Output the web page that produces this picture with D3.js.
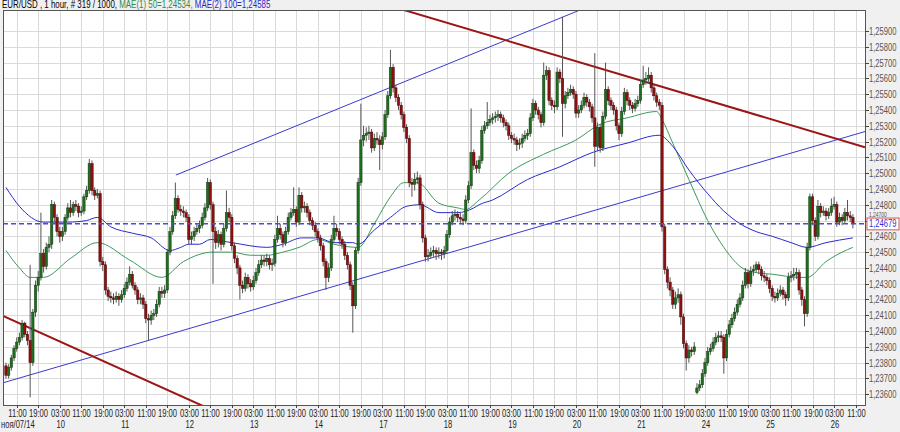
<!DOCTYPE html>
<html><head><meta charset="utf-8">
<script src="https://cdn.jsdelivr.net/npm/d3@7"></script>
<style>body{margin:0;background:#f0f0f0}svg{display:block}text{font-family:"Liberation Sans",Arial,sans-serif}</style>
</head><body>
<svg id="c" width="900" height="432"></svg>
<script>
// ---- DATA (EUR/USD, 1 hour bars) ----
const opens=[
1.2378,1.2372,1.2377,1.2383,1.2389,1.2393,1.2396,1.2405,1.2398,1.2394,
1.2380,1.2412,1.2429,1.2434,1.2449,1.2441,1.2453,1.2455,1.2480,1.2472,
1.2463,1.2460,1.2463,1.2472,1.2478,1.2475,1.2480,1.2479,1.2475,1.2476,
1.2485,1.2489,1.2506,1.2489,1.2486,1.2487,1.2444,1.2442,1.2426,1.2422,
1.2421,1.2420,1.2422,1.2420,1.2423,1.2427,1.2431,1.2436,1.2429,1.2426,
1.2420,1.2421,1.2417,1.2408,1.2407,1.2410,1.2411,1.2417,1.2425,1.2424,
1.2426,1.2450,1.2463,1.2473,1.2484,1.2477,1.2476,1.2475,1.2472,1.2458,
1.2460,1.2463,1.2465,1.2467,1.2472,1.2478,1.2494,1.2480,1.2463,1.2456,
1.2461,1.2455,1.2465,1.2475,1.2472,1.2454,1.2446,1.2440,1.2429,1.2427,
1.2434,1.2430,1.2428,1.2432,1.2437,1.2442,1.2445,1.2444,1.2446,1.2442,
1.2443,1.2458,1.2465,1.2461,1.2456,1.2463,1.2472,1.2475,1.2477,1.2469,
1.2486,1.2478,1.2479,1.2475,1.2470,1.2467,1.2463,1.2459,1.2454,1.2444,
1.2434,1.2440,1.2458,1.2465,1.2463,1.2458,1.2455,1.2448,1.2442,1.2429,
1.2416,1.2451,1.2494,1.2521,1.2524,1.2525,1.2526,1.2516,1.2522,1.2521,
1.2518,1.2523,1.2537,1.2549,1.2567,1.2554,1.2548,1.2543,1.2537,1.2529,
1.2522,1.2494,1.2493,1.2496,1.2497,1.2480,1.2459,1.2447,1.2448,1.2450,
1.2451,1.2449,1.2450,1.2449,1.2451,1.2461,1.2469,1.2473,1.2474,1.2472,
1.2471,1.2470,1.2483,1.2492,1.2513,1.2505,1.2503,1.2508,1.2527,1.2530,
1.2532,1.2534,1.2535,1.2536,1.2537,1.2535,1.2532,1.2530,1.2524,1.2522,
1.2521,1.2518,1.2519,1.2522,1.2524,1.2525,1.2535,1.2544,1.2540,1.2537,
1.2532,1.2562,1.2565,1.2546,1.2543,1.2542,1.2564,1.2560,1.2544,1.2549,
1.2551,1.2553,1.2550,1.2538,1.2540,1.2543,1.2548,1.2545,1.2542,1.2535,
1.2517,1.2529,1.2516,1.2536,1.2553,1.2546,1.2543,1.2540,1.2530,1.2525,
1.2539,1.2551,1.2546,1.2543,1.2541,1.2544,1.2546,1.2556,1.2559,1.2560,
1.2562,1.2554,1.2549,1.2545,1.2543,1.2466,1.2439,1.2431,1.2426,1.2417,
1.2421,1.2423,1.2409,1.2392,1.2383,1.2388,1.2387,1.2361,1.2364,1.2366,
1.2373,1.2380,1.2387,1.2389,1.2393,1.2396,1.2397,1.2396,1.2383,1.2398,
1.2404,1.2408,1.2412,1.2417,1.2421,1.2429,1.2437,1.2430,1.2438,1.2439,
1.2442,1.2439,1.2435,1.2434,1.2432,1.2427,1.2422,1.2421,1.2424,1.2426,
1.2423,1.2421,1.2434,1.2435,1.2436,1.2437,1.2426,1.2420,1.2411,1.2453,
1.2485,1.2470,1.2460,1.2479,1.2475,1.2476,1.2473,1.2475,1.2479,1.2480,
1.2469,1.2472,1.2470,1.2475,1.2473,1.2472];
const highs=[
1.2380,1.2379,1.2385,1.2391,1.2396,1.2399,1.2407,1.2406,1.2400,1.2442,
1.2414,1.2432,1.2438,1.2475,1.2452,1.2456,1.2460,1.2483,1.2482,1.2474,
1.2466,1.2466,1.2474,1.2481,1.2483,1.2482,1.2483,1.2481,1.2479,1.2487,
1.2492,1.2509,1.2508,1.2491,1.2490,1.2489,1.2447,1.2444,1.2428,1.2425,
1.2424,1.2425,1.2424,1.2426,1.2430,1.2434,1.2441,1.2438,1.2431,1.2428,
1.2424,1.2423,1.2419,1.2411,1.2413,1.2414,1.2420,1.2428,1.2428,1.2429,
1.2452,1.2466,1.2476,1.2494,1.2486,1.2480,1.2479,1.2477,1.2474,1.2463,
1.2466,1.2468,1.2470,1.2475,1.2481,1.2497,1.2496,1.2482,1.2466,1.2464,
1.2463,1.2468,1.2489,1.2478,1.2474,1.2456,1.2448,1.2442,1.2432,1.2437,
1.2436,1.2433,1.2435,1.2440,1.2445,1.2448,1.2448,1.2449,1.2448,1.2446,
1.2461,1.2473,1.2468,1.2463,1.2466,1.2475,1.2478,1.2491,1.2479,1.2491,
1.2488,1.2482,1.2481,1.2477,1.2472,1.2469,1.2465,1.2461,1.2456,1.2446,
1.2443,1.2461,1.2473,1.2468,1.2465,1.2460,1.2457,1.2450,1.2444,1.2431,
1.2453,1.2497,1.2544,1.2530,1.2529,1.2530,1.2528,1.2525,1.2526,1.2524,
1.2526,1.2540,1.2552,1.2578,1.2569,1.2556,1.2550,1.2545,1.2539,1.2531,
1.2524,1.2497,1.2500,1.2501,1.2499,1.2482,1.2461,1.2452,1.2453,1.2454,
1.2453,1.2453,1.2452,1.2454,1.2464,1.2472,1.2476,1.2477,1.2476,1.2475,
1.2474,1.2486,1.2495,1.2541,1.2515,1.2508,1.2511,1.2530,1.2533,1.2545,
1.2537,1.2538,1.2539,1.2540,1.2539,1.2537,1.2534,1.2532,1.2526,1.2525,
1.2523,1.2522,1.2525,1.2527,1.2528,1.2538,1.2547,1.2546,1.2542,1.2539,
1.2570,1.2568,1.2567,1.2548,1.2546,1.2567,1.2566,1.2599,1.2552,1.2554,
1.2556,1.2555,1.2552,1.2543,1.2546,1.2551,1.2550,1.2547,1.2544,1.2576,
1.2532,1.2531,1.2539,1.2570,1.2555,1.2548,1.2545,1.2542,1.2532,1.2542,
1.2554,1.2553,1.2548,1.2545,1.2547,1.2549,1.2559,1.2568,1.2564,1.2567,
1.2564,1.2556,1.2551,1.2547,1.2545,1.2468,1.2441,1.2434,1.2428,1.2425,
1.2427,1.2425,1.2411,1.2394,1.2391,1.2390,1.2393,1.2367,1.2369,1.2376,
1.2383,1.2390,1.2392,1.2396,1.2399,1.2400,1.2400,1.2398,1.2401,1.2407,
1.2411,1.2415,1.2420,1.2424,1.2432,1.2440,1.2439,1.2441,1.2442,1.2444,
1.2444,1.2441,1.2438,1.2436,1.2434,1.2429,1.2425,1.2427,1.2429,1.2428,
1.2425,1.2437,1.2438,1.2440,1.2440,1.2439,1.2428,1.2422,1.2456,1.2487,
1.2487,1.2472,1.2483,1.2481,1.2479,1.2478,1.2478,1.2484,1.2485,1.2482,
1.2475,1.2474,1.2478,1.2483,1.2476,1.2474];
const lows=[
1.2370,1.2370,1.2375,1.2381,1.2387,1.2391,1.2394,1.2396,1.2391,1.2358,
1.2378,1.2409,1.2425,1.2432,1.2437,1.2439,1.2450,1.2452,1.2469,1.2460,
1.2456,1.2457,1.2461,1.2470,1.2472,1.2473,1.2476,1.2472,1.2473,1.2474,
1.2483,1.2487,1.2486,1.2483,1.2484,1.2441,1.2438,1.2423,1.2419,1.2418,
1.2417,1.2418,1.2416,1.2418,1.2421,1.2425,1.2429,1.2427,1.2423,1.2417,
1.2417,1.2414,1.2405,1.2394,1.2404,1.2407,1.2409,1.2415,1.2421,1.2421,
1.2424,1.2448,1.2461,1.2471,1.2475,1.2473,1.2472,1.2469,1.2455,1.2455,
1.2457,1.2461,1.2462,1.2465,1.2470,1.2476,1.2477,1.2430,1.2452,1.2453,
1.2451,1.2453,1.2463,1.2469,1.2451,1.2443,1.2436,1.2420,1.2424,1.2425,
1.2427,1.2425,1.2426,1.2430,1.2435,1.2440,1.2441,1.2441,1.2439,1.2438,
1.2441,1.2456,1.2458,1.2453,1.2454,1.2461,1.2470,1.2473,1.2466,1.2467,
1.2475,1.2475,1.2472,1.2467,1.2464,1.2460,1.2456,1.2451,1.2441,1.2426,
1.2431,1.2438,1.2456,1.2460,1.2455,1.2452,1.2445,1.2439,1.2426,1.2399,
1.2414,1.2449,1.2492,1.2517,1.2520,1.2521,1.2513,1.2514,1.2518,1.2502,
1.2515,1.2521,1.2535,1.2547,1.2551,1.2545,1.2540,1.2534,1.2526,1.2519,
1.2491,1.2485,1.2489,1.2493,1.2477,1.2456,1.2444,1.2444,1.2446,1.2447,
1.2445,1.2446,1.2445,1.2446,1.2449,1.2459,1.2467,1.2470,1.2469,1.2468,
1.2467,1.2468,1.2481,1.2490,1.2502,1.2500,1.2500,1.2506,1.2525,1.2528,
1.2530,1.2531,1.2532,1.2533,1.2532,1.2529,1.2527,1.2521,1.2519,1.2518,
1.2514,1.2515,1.2516,1.2520,1.2521,1.2523,1.2533,1.2537,1.2534,1.2529,
1.2530,1.2559,1.2543,1.2540,1.2538,1.2540,1.2557,1.2523,1.2541,1.2547,
1.2549,1.2547,1.2535,1.2535,1.2538,1.2541,1.2542,1.2539,1.2532,1.2504,
1.2514,1.2513,1.2514,1.2534,1.2543,1.2540,1.2537,1.2527,1.2521,1.2523,
1.2537,1.2543,1.2540,1.2538,1.2539,1.2542,1.2544,1.2554,1.2556,1.2557,
1.2551,1.2546,1.2542,1.2540,1.2463,1.2436,1.2427,1.2422,1.2414,1.2414,
1.2418,1.2404,1.2389,1.2375,1.2380,1.2384,1.2385,1.2360,1.2362,1.2364,
1.2371,1.2378,1.2385,1.2387,1.2391,1.2393,1.2393,1.2373,1.2381,1.2396,
1.2402,1.2406,1.2410,1.2415,1.2419,1.2427,1.2427,1.2428,1.2435,1.2437,
1.2436,1.2432,1.2431,1.2429,1.2424,1.2419,1.2418,1.2419,1.2422,1.2420,
1.2416,1.2419,1.2431,1.2432,1.2433,1.2423,1.2416,1.2403,1.2409,1.2451,
1.2467,1.2457,1.2458,1.2472,1.2473,1.2470,1.2471,1.2473,1.2477,1.2466,
1.2467,1.2467,1.2468,1.2470,1.2469,1.2465];
const closes=[
1.2372,1.2377,1.2383,1.2389,1.2393,1.2396,1.2405,1.2398,1.2394,1.2380,
1.2412,1.2429,1.2434,1.2449,1.2441,1.2453,1.2455,1.2480,1.2472,1.2463,
1.2460,1.2463,1.2472,1.2478,1.2475,1.2480,1.2479,1.2475,1.2476,1.2485,
1.2489,1.2506,1.2489,1.2486,1.2487,1.2444,1.2442,1.2426,1.2422,1.2421,
1.2420,1.2422,1.2420,1.2423,1.2427,1.2431,1.2436,1.2429,1.2426,1.2420,
1.2421,1.2417,1.2408,1.2407,1.2410,1.2411,1.2417,1.2425,1.2424,1.2426,
1.2450,1.2463,1.2473,1.2484,1.2477,1.2476,1.2475,1.2472,1.2458,1.2460,
1.2463,1.2465,1.2467,1.2472,1.2478,1.2494,1.2480,1.2463,1.2456,1.2461,
1.2455,1.2465,1.2475,1.2472,1.2454,1.2446,1.2440,1.2429,1.2427,1.2434,
1.2430,1.2428,1.2432,1.2437,1.2442,1.2445,1.2444,1.2446,1.2442,1.2443,
1.2458,1.2465,1.2461,1.2456,1.2463,1.2472,1.2475,1.2477,1.2469,1.2486,
1.2478,1.2479,1.2475,1.2470,1.2467,1.2463,1.2459,1.2454,1.2444,1.2434,
1.2440,1.2458,1.2465,1.2463,1.2458,1.2455,1.2448,1.2442,1.2429,1.2416,
1.2451,1.2494,1.2521,1.2524,1.2525,1.2526,1.2516,1.2522,1.2521,1.2518,
1.2523,1.2537,1.2549,1.2567,1.2554,1.2548,1.2543,1.2537,1.2529,1.2522,
1.2494,1.2493,1.2496,1.2497,1.2480,1.2459,1.2447,1.2448,1.2450,1.2451,
1.2449,1.2450,1.2449,1.2451,1.2461,1.2469,1.2473,1.2474,1.2472,1.2471,
1.2470,1.2483,1.2492,1.2513,1.2505,1.2503,1.2508,1.2527,1.2530,1.2532,
1.2534,1.2535,1.2536,1.2537,1.2535,1.2532,1.2530,1.2524,1.2522,1.2521,
1.2518,1.2519,1.2522,1.2524,1.2525,1.2535,1.2544,1.2540,1.2537,1.2532,
1.2562,1.2565,1.2546,1.2543,1.2542,1.2564,1.2560,1.2544,1.2549,1.2551,
1.2553,1.2550,1.2538,1.2540,1.2543,1.2548,1.2545,1.2542,1.2535,1.2517,
1.2529,1.2516,1.2536,1.2553,1.2546,1.2543,1.2540,1.2530,1.2525,1.2539,
1.2551,1.2546,1.2543,1.2541,1.2544,1.2546,1.2556,1.2559,1.2560,1.2562,
1.2554,1.2549,1.2545,1.2543,1.2466,1.2439,1.2431,1.2426,1.2417,1.2421,
1.2423,1.2409,1.2392,1.2383,1.2388,1.2387,1.2390,1.2364,1.2366,1.2373,
1.2380,1.2387,1.2389,1.2393,1.2396,1.2397,1.2396,1.2383,1.2398,1.2404,
1.2408,1.2412,1.2417,1.2421,1.2429,1.2437,1.2430,1.2438,1.2439,1.2442,
1.2439,1.2435,1.2434,1.2432,1.2427,1.2422,1.2421,1.2424,1.2426,1.2423,
1.2421,1.2434,1.2435,1.2436,1.2437,1.2426,1.2420,1.2411,1.2453,1.2485,
1.2470,1.2460,1.2479,1.2475,1.2476,1.2473,1.2475,1.2479,1.2480,1.2469,
1.2472,1.2470,1.2475,1.2473,1.2472,1.24679];

// Moving averages: [bar index, value]
const ma50Bars=[0,5,9,14,24,34,46,58,66,77,84,91,97,103,109,116,122,131,137,143,148,153,161,168,171,176,187,200,212,221,231,242,244,248,254,261,267,273,279,285,295,298,305,311,315];
const ma50Vals=[1.2451,1.2440,1.2434,1.2434,1.2446,1.2456,1.2445,1.2434,1.2444,1.2450,1.2450,1.2448,1.2448,1.2450,1.2453,1.2458,1.2455,1.2453,1.2468,1.2485,1.2494,1.2494,1.2481,1.2478,1.2477,1.2483,1.2500,1.2512,1.2521,1.2531,1.2535,1.2539,1.2534,1.2519,1.2496,1.2470,1.2453,1.2441,1.2437,1.2436,1.2434,1.2434,1.2444,1.2450,1.2453];
const ma100Bars=[0,5,14,23,30,34,39,47,54,61,65,68,72,76,84,97,103,110,116,122,129,131,137,143,149,154,161,168,174,176,181,194,206,218,231,243,248,254,261,267,273,279,285,292,298,305,315];
const ma100Vals=[1.2491,1.2479,1.2469,1.2469,1.2470,1.2472,1.2466,1.2462,1.2459,1.2451,1.2453,1.2455,1.2455,1.2458,1.2456,1.2453,1.2455,1.2459,1.2459,1.2456,1.2456,1.2455,1.2464,1.2472,1.2479,1.2480,1.2475,1.2475,1.2478,1.2480,1.2483,1.2496,1.2504,1.2513,1.2519,1.2524,1.2517,1.2502,1.2487,1.2476,1.2468,1.2463,1.2460,1.2456,1.2453,1.2456,1.2459];

// Drawn trend lines: two anchors [bar, price]
const blueLowerLine=[[0,1.23678],[315,1.25241]];
const blueUpperRay=[[63.2,1.24988],[213.5,1.26033]];
const redLowerLine=[[0,1.24087],[70,1.23551]];
const redUpperLine=[[148,1.26033],[315,1.25187]];

const lastPrice=1.24679;
const priceTicks=[1.236,1.237,1.238,1.239,1.240,1.241,1.242,1.243,1.244,1.245,1.246,1.247,1.248,1.249,1.250,1.251,1.252,1.253,1.254,1.255,1.256,1.257,1.258,1.259];
const timeTickLabels=["11:00","19:00","03:00","11:00","19:00","03:00","11:00","19:00","03:00","11:00","19:00","03:00","11:00","19:00","03:00","11:00","19:00","03:00","11:00","19:00","03:00","11:00","19:00","03:00","11:00","19:00","03:00","11:00","19:00","03:00","11:00","19:00","03:00","11:00","19:00","03:00","11:00","19:00","03:00","11:00"];
const firstTickBar=4, barsPerTick=8;
const dayLabels=["10","11","12","13","14","17","18","19","20","21","24","25","26"];
const dayLabelBars=[20,44,68,92,116,140,164,188,212,236,260,284,308];
const firstDateLabel="ноя/07/14";
const header=[["EUR/USD , 1 hour, # 319 / 1000, ","#000"],["MAE(1) 50=1,24534, ","#2e8b4a"],["MAE(2) 100=1,24585","#2828c8"]];

// ---- DRAWING ----
const svg=d3.select("#c");
const P={l:3,r:865,t:10,b:405};
const x=d3.scaleLinear().domain([-1.1,319.5]).range([P.l,P.r]);
const y=d3.scaleLinear().domain([1.23532,1.26033]).range([P.b,P.t]);
const SX=0.76;
const fmt=v=>d3.format(".5f")(v).replace(".",",");

svg.append("rect").attr("width",900).attr("height",432).attr("fill","#f0f0f0");
svg.append("rect").attr("x",P.l).attr("y",P.t).attr("width",P.r-P.l).attr("height",P.b-P.t).attr("fill","#fff");
svg.append("clipPath").attr("id","clip").append("rect").attr("x",P.l).attr("y",P.t).attr("width",P.r-P.l).attr("height",P.b-P.t);

const timeTickBars=timeTickLabels.map((_,i)=>firstTickBar+i*barsPerTick);
const grid=svg.append("g").attr("stroke","#dadada").attr("stroke-width",1);
grid.selectAll("line.v").data(timeTickBars).join("line").attr("x1",d=>Math.round(x(d))+0.5).attr("x2",d=>Math.round(x(d))+0.5).attr("y1",P.t).attr("y2",P.b);
grid.selectAll("line.h").data(priceTicks).join("line").attr("y1",d=>Math.round(y(d))+0.5).attr("y2",d=>Math.round(y(d))+0.5).attr("x1",P.l).attr("x2",P.r);

const plot=svg.append("g").attr("clip-path","url(#clip)");

function drawTrend(anchors,mode,color,width){
  const [a,b]=anchors;
  const x1=x(a[0]),y1=y(a[1]),x2=x(b[0]),y2=y(b[1]);
  const m=(y2-y1)/(x2-x1);
  const sx=mode==="ray"?x1:P.l, ex=P.r;
  plot.append("line").attr("x1",sx).attr("y1",y1+m*(sx-x1)).attr("x2",ex).attr("y2",y1+m*(ex-x1))
    .attr("stroke",color).attr("stroke-width",width);
}
drawTrend(blueLowerLine,"line","#3a3ad0",1);
drawTrend(blueUpperRay,"ray","#3a3ad0",1);
drawTrend(redLowerLine,"line","#9c1414",2);
drawTrend(redUpperLine,"line","#9c1414",2);

const lineGen=d3.line().x(d=>x(d[0])).y(d=>y(d[1])).curve(d3.curveMonotoneX);
plot.append("path").attr("d",lineGen(ma50Bars.map((b,i)=>[b,ma50Vals[i]]))).attr("fill","none").attr("stroke","#3c9a5c").attr("stroke-width",1);
plot.append("path").attr("d",lineGen(ma100Bars.map((b,i)=>[b,ma100Vals[i]]))).attr("fill","none").attr("stroke","#2a2ad0").attr("stroke-width",1);

const bars=closes.map((c,i)=>({i,o:opens[i],h:highs[i],l:lows[i],c}));
const cg=plot.append("g");
cg.selectAll("line").data(bars).join("line")
  .attr("x1",d=>x(d.i)).attr("x2",d=>x(d.i)).attr("y1",d=>y(d.h)).attr("y2",d=>y(d.l))
  .attr("stroke","#555").attr("stroke-width",1);
cg.selectAll("rect").data(bars).join("rect")
  .attr("x",d=>x(d.i)-1.2).attr("width",2.4)
  .attr("y",d=>y(Math.max(d.o,d.c))).attr("height",d=>Math.max(1,Math.abs(y(d.o)-y(d.c))))
  .attr("fill",d=>d.c>=d.o?"#1f6e1f":"#8e1010")
  .attr("stroke",d=>d.c>=d.o?"#0d3a0d":"#4a0606").attr("stroke-width",0.5);

plot.append("line").attr("x1",P.l).attr("x2",P.r).attr("y1",y(lastPrice)).attr("y2",y(lastPrice))
  .attr("stroke","#4a4ad8").attr("stroke-width",1.5).attr("stroke-dasharray","5,3");

svg.append("rect").attr("x",P.l+0.5).attr("y",P.t+0.5).attr("width",P.r-P.l).attr("height",P.b-P.t)
  .attr("fill","none").attr("stroke","#555").attr("stroke-width",1);

function txt(g,tx,ty,s,anchor,color,size){
  return g.append("text").attr("transform",`translate(${tx},${ty}) scale(${SX},1)`)
    .attr("text-anchor",anchor).attr("fill",color||"#222").attr("font-size",size||10).text(s);
}
// right axis
const ra=svg.append("g");
const ly=y(lastPrice);
priceTicks.forEach(p=>{
  const yy=Math.round(y(p))+0.5;
  ra.append("line").attr("x1",P.r).attr("x2",P.r+4).attr("y1",yy).attr("y2",yy).attr("stroke","#444");
  // the label that would sit under the last-price box is squeezed into the gap just above it
  const near=Math.abs(yy-ly)<10;
  txt(ra,P.r+4,near?ly-6.9:yy+3.5,fmt(p),"start","#555",near?6.5:10);
});
ra.append("rect").attr("x",P.r+2).attr("y",ly-5.8).attr("width",32).attr("height",11.8).attr("fill","#fff").attr("stroke","#e05050").attr("stroke-width",1);
txt(ra,P.r+4,ly+3.5,fmt(lastPrice),"start","#3030c8",10);

// bottom axis
const ba=svg.append("g");
timeTickBars.forEach((b,i)=>{
  const xx=Math.round(x(b))+0.5;
  ba.append("line").attr("x1",xx).attr("x2",xx).attr("y1",P.b).attr("y2",P.b+3).attr("stroke","#444");
  txt(ba,xx,416.5,timeTickLabels[i],"middle","#222",10);
});
txt(ba,1,428,firstDateLabel,"start","#222",10);
dayLabels.forEach((d,i)=>txt(ba,x(dayLabelBars[i])+1,428,d,"middle","#222",10));

// header
const ht=svg.append("text").attr("transform",`translate(2,8) scale(0.77,1)`).attr("font-size",10.3);
header.forEach(([s,c])=>ht.append("tspan").attr("fill",c).text(s));
</script>
</body></html>
